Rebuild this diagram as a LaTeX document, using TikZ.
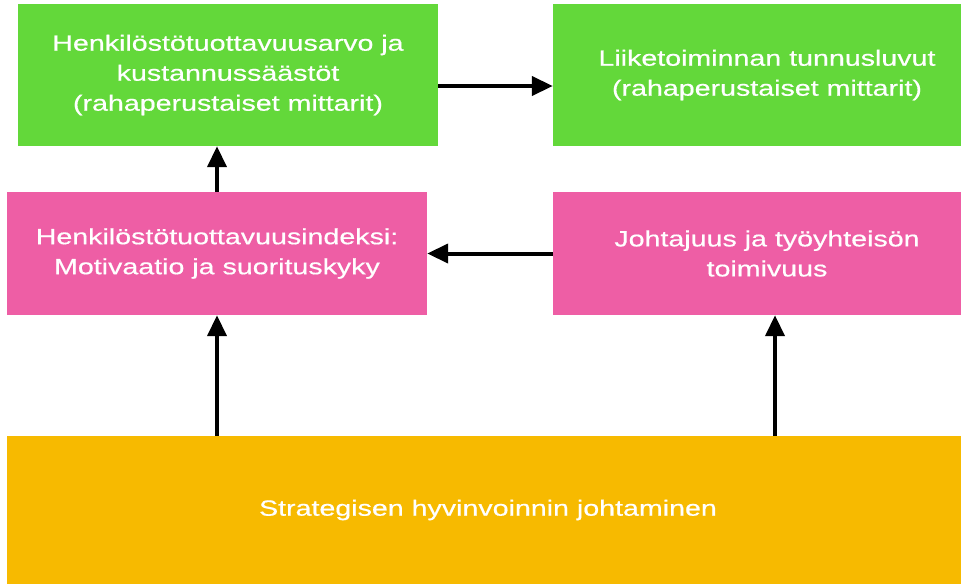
\documentclass[tikz,border=0pt]{standalone}
\usepackage{fontspec}
\setmainfont{Liberation Sans}[FakeStretch=1.3, FakeBold=0.6]
\usetikzlibrary{arrows.meta}

\definecolor{boxgreen}{RGB}{99,216,58}
\definecolor{boxpink}{RGB}{238,94,165}
\definecolor{boxgold}{RGB}{247,186,0}

\begin{document}
\begin{tikzpicture}[x=1pt, y=-1pt,
  box/.style={rectangle, inner sep=0pt, text=white, align=center,
    font=\fontsize{22}{30}\selectfont},
  flow/.style={line width=4pt, -{Triangle[length=21pt, width=19pt]}}]

\useasboundingbox (0,0) rectangle (961,584);
\clip (0,0) rectangle (961,584);

% top row: monetary measures
\node[box, fill=boxgreen, minimum width=420pt, minimum height=142pt] (value) at (228,75)
  {Henkilöstötuottavuusarvo ja\\kustannussäästöt\\(rahaperustaiset mittarit)};
\node[box, fill=boxgreen, minimum width=428pt, minimum height=142pt] (kpi) at (767,75)
  {Liiketoiminnan tunnusluvut\\(rahaperustaiset mittarit)};

% middle row
\node[box, fill=boxpink, minimum width=420pt, minimum height=123pt] (index) at (217,253.5)
  {Henkilöstötuottavuusindeksi:\\Motivaatio ja suorituskyky};
\node[box, fill=boxpink, minimum width=428pt, minimum height=123pt] (lead) at (767,253.5)
  {Johtajuus ja työyhteisön\\toimivuus};

% base
\node[box, fill=boxgold, minimum width=962pt, minimum height=148pt] (strategy) at (488,510)
  {Strategisen hyvinvoinnin johtaminen};

% connectors
\draw[flow] ([yshift=-11pt]value.east) -- ([yshift=-11pt]value.east -| kpi.west);
\draw[flow] (lead.west) -- (lead.west -| index.east);
\draw[flow] (index.north) -- (index.north |- value.south);
\draw[flow] (strategy.north -| index.south) -- (index.south);
\coordinate (leadfoot) at ([xshift=8pt]lead.south);
\draw[flow] (strategy.north -| leadfoot) -- (leadfoot);

\end{tikzpicture}
\end{document}
